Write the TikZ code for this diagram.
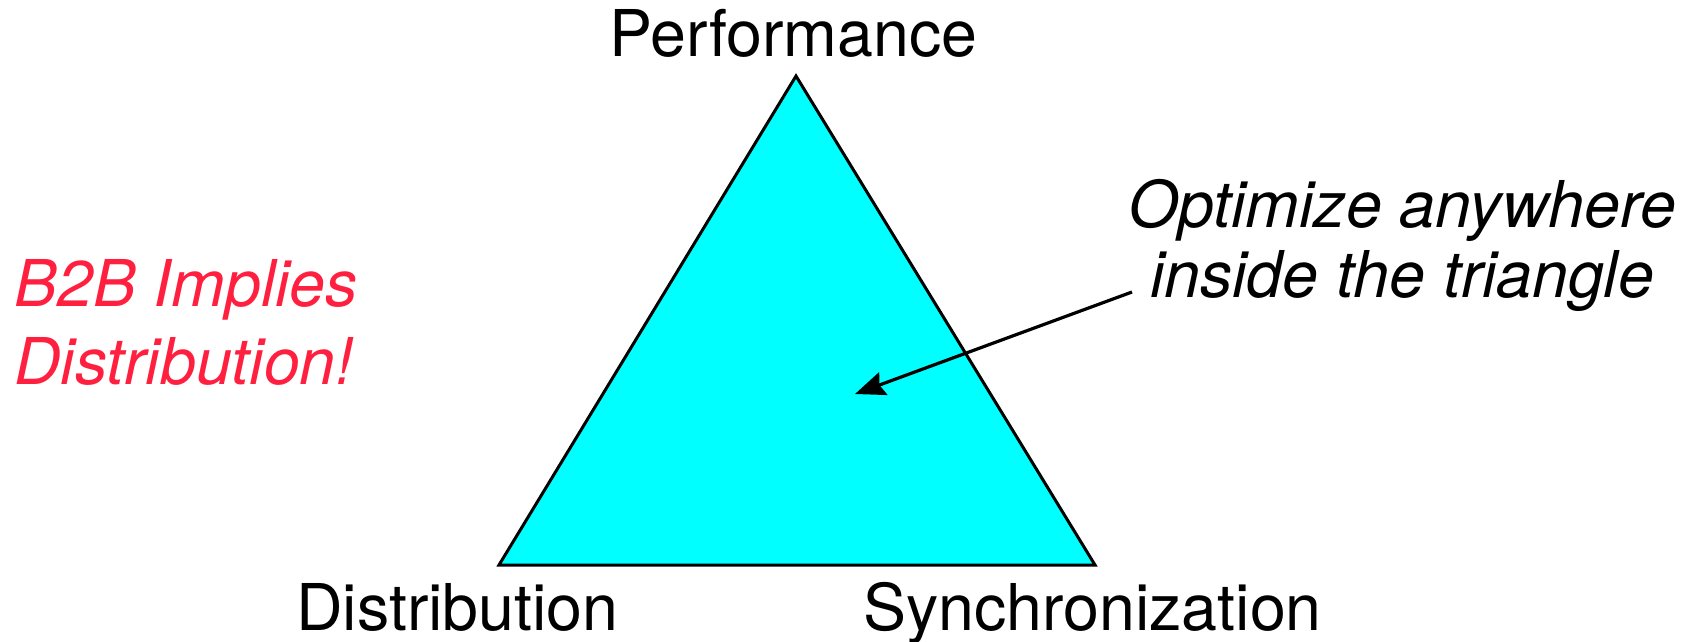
\documentclass[tikz,border=0pt]{standalone}
\usepackage{fontspec}
\setmainfont{TeX Gyre Heros}
\usetikzlibrary{arrows.meta}
\definecolor{tricyan}{RGB}{0,255,255}
\definecolor{hotred}{RGB}{255,32,64}
\begin{document}
\begin{tikzpicture}[x=1pt,y=-1pt,
  lbl/.style={inner sep=0pt,anchor=base west,font=\fontsize{64.5}{76}\selectfont},
  ilbl/.style={lbl,font=\fontsize{64.5}{76}\selectfont\itshape},
  edge/.style={line width=3pt,line join=miter}]
\useasboundingbox (0,0) rectangle (1694,641);
\coordinate (top) at (796,76);
\coordinate (bl) at (499,565);
\coordinate (br) at (1095,565);
\filldraw[edge,fill=tricyan,draw=black] (top) -- (br) -- (bl) -- cycle;
\node[lbl] (perf) at (609,56) {Performance};
\node[lbl] (dist) at (296,630) {Distribution};
\node[lbl] (sync) at (863,630) {Synchronization};
\node[ilbl] (opt1) at (1128,227) {Optimize anywhere};
\node[ilbl] (opt2) at (1150,297) {inside the triangle};
\node[ilbl,text=hotred] (b2b1) at (14,306) {B2B Implies};
\node[ilbl,text=hotred] (b2b2) at (14,384) {Distribution!};
\coordinate (astart) at (1132,292);
\coordinate (aend) at (855,394);
\draw[line width=3.2pt,-{Stealth[length=30pt,width=24pt,inset=4pt]}] (astart) -- (aend);
\end{tikzpicture}
\end{document}
